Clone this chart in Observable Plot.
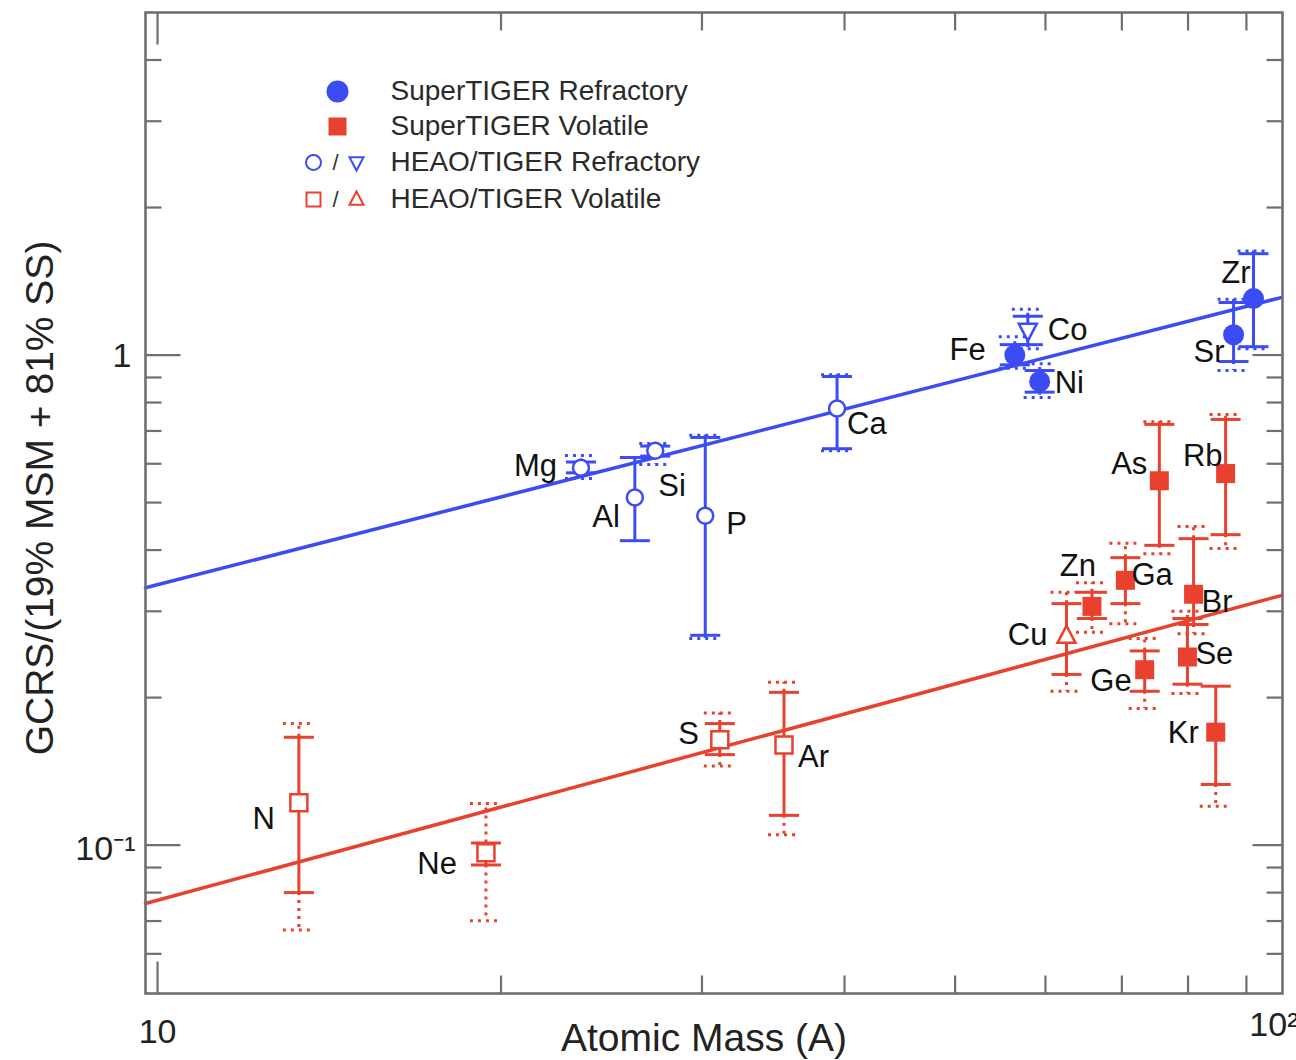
<!DOCTYPE html>
<html>
<head>
<meta charset="utf-8">
<script src="https://cdn.jsdelivr.net/npm/d3@7"></script>
<script src="https://cdn.jsdelivr.net/npm/@observablehq/plot@0.6"></script>
<style>
  html, body { margin: 0; padding: 0; background: #ffffff; }
  #chart svg { display: block; }
</style>
</head>
<body>
<div id="chart"></div>
<script>
// ---------------- data ----------------
const elements     = ["N","Ne","Mg","Al","Si","P","S","Ar","Ca","Fe","Co","Ni","Cu","Zn","Ga","Ge","As","Se","Br","Kr","Rb","Sr","Zr"];
const atomicMass   = [13.3, 19.4, 23.5, 26.2, 27.3, 30.2, 31.1, 35.4, 39.4, 56.4, 57.9, 59.3, 62.6, 65.9, 70.5, 73.3, 75.5, 79.9, 80.9, 84.6, 86.3, 87.7, 91.3];
const ratio        = [0.122, 0.0965, 0.589, 0.512, 0.638, 0.470, 0.164, 0.160, 0.778, 1.00, 1.122, 0.883, 0.267, 0.307, 0.347, 0.228, 0.554, 0.242, 0.325, 0.170, 0.573, 1.10, 1.304];
const statLow      = [0.080, 0.0911, 0.575, 0.418, 0.622, 0.268, 0.153, 0.115, 0.644, 0.955, 1.05, 0.84, 0.223, 0.290, 0.311, 0.206, 0.409, 0.213, 0.282, 0.133, 0.430, 0.97, 1.04];
const statHigh     = [0.166, 0.101, 0.605, 0.618, 0.652, 0.679, 0.177, 0.205, 0.904, 1.05, 1.20, 0.93, 0.311, 0.328, 0.386, 0.249, 0.722, 0.290, 0.422, 0.211, 0.739, 1.28, 1.61];
const totalLow     = [0.0671, 0.0701, 0.560, 0.418, 0.598, 0.264, 0.145, 0.105, 0.638, 0.94, 1.03, 0.819, 0.206, 0.272, 0.283, 0.190, 0.393, 0.204, 0.270, 0.120, 0.403, 0.93, 1.03];
const totalHigh    = [0.177, 0.1216, 0.624, 0.618, 0.660, 0.686, 0.186, 0.215, 0.912, 1.09, 1.24, 0.96, 0.328, 0.343, 0.413, 0.264, 0.731, 0.300, 0.447, 0.211, 0.756, 1.30, 1.63];
const elementClass = ["Volatile","Volatile","Refractory","Refractory","Refractory","Refractory","Volatile","Volatile","Refractory","Refractory","Refractory","Refractory","Volatile","Volatile","Volatile","Volatile","Volatile","Volatile","Volatile","Volatile","Volatile","Refractory","Refractory"];
const dataset      = ["HEAO","HEAO","HEAO","HEAO","HEAO","HEAO","HEAO","HEAO","HEAO","SuperTIGER","TIGER","SuperTIGER","TIGER","SuperTIGER","SuperTIGER","SuperTIGER","SuperTIGER","SuperTIGER","SuperTIGER","SuperTIGER","SuperTIGER","SuperTIGER","SuperTIGER"];

// power-law fit lines (end points)
const fitMass       = [9.76, 96.5];
const refractoryFit = [0.335, 1.31];
const volatileFit   = [0.076, 0.323];

// axis ticks
const xMajorTicks = [10];
const xMinorTicks = [20, 30, 40, 50, 60, 70, 80, 90];
const yMajorTicks = [0.1, 1];
const yMinorTicks = [0.06, 0.07, 0.08, 0.09, 0.2, 0.3, 0.4, 0.5, 0.6, 0.7, 0.8, 0.9, 2, 3, 4];

const legendLabels = ["SuperTIGER Refractory", "SuperTIGER Volatile", "HEAO/TIGER Refractory", "HEAO/TIGER Volatile"];

// ---------------- styling / layout ----------------
const BLUE = "#3c4cf5";
const RED = "#e8412e";
const AXIS = "#6f6f6f";
const FONT = "'Liberation Sans', Arial, Helvetica, sans-serif";

// label placement relative to each marker: [dx, dy, textAnchor]
const labelLayout = {
  N: [-24, 16, "end"], Ne: [-29, 11, "end"], Mg: [-24, -2, "end"], Al: [-15, 20, "end"],
  Si: [3, 35, "start"], P: [21, 8, "start"], S: [-21, -6, "end"], Ar: [14, 12, "start"],
  Ca: [10, 16, "start"], Fe: [-29, -5, "end"], Co: [20, 0, "start"], Ni: [15, 2, "start"],
  Cu: [-19, -1, "end"], Zn: [-14, -40, "middle"], Ga: [6, -5, "start"], Ge: [-13, 11, "end"],
  As: [-12, -17, "end"], Se: [8, -3, "start"], Br: [8, 8, "start"], Kr: [-17, 1, "end"],
  Rb: [-3, -17, "end"], Sr: [-9, 17, "end"], Zr: [-3, -25, "end"]
};
const legendRowOffsets = [79, 114, 150, 187];

// ---------------- custom symbols ----------------
const rad = (size) => Math.sqrt(size / Math.PI);
const segment = (ux, uy) => ({draw(c, size) { const r = rad(size); c.moveTo(0, 0); c.lineTo(ux * r, uy * r); }});
const hline = {draw(c, size) { const r = rad(size); c.moveTo(-r, 0); c.lineTo(r, 0); }};
const squareSym = {draw(c, size) { const r = rad(size); c.moveTo(-r, -r); c.lineTo(r, -r); c.lineTo(r, r); c.lineTo(-r, r); c.closePath(); }};
const triUp = {draw(c, size) { const r = rad(size); c.moveTo(0, -r * 1.15); c.lineTo(r, r * 0.75); c.lineTo(-r, r * 0.75); c.closePath(); }};
const triDown = {draw(c, size) { const r = rad(size); c.moveTo(0, r * 1.15); c.lineTo(r, -r * 0.75); c.lineTo(-r, -r * 0.75); c.closePath(); }};

// ---------------- table ----------------
const rows = elements.map((el, i) => ({
  el, A: atomicMass[i], v: ratio[i],
  sLo: statLow[i], sHi: statHigh[i], tLo: totalLow[i], tHi: totalHigh[i],
  cls: elementClass[i], set: dataset[i],
  color: elementClass[i] === "Refractory" ? BLUE : RED
}));
const fitRows = (vals) => fitMass.map((a, i) => ({A: a, v: vals[i]}));

const extHi = rows.filter(d => d.tHi > d.sHi * 1.004);
const extLo = rows.filter(d => d.tLo < d.sLo * 0.996);

const tickCommon = {stroke: AXIS, strokeWidth: 2.2, fill: "none"};
const txt = {lineAnchor: "middle", fill: "#222"};

const marks = [
  // fit lines
  Plot.line(fitRows(refractoryFit), {x: "A", y: "v", stroke: BLUE, strokeWidth: 3.5}),
  Plot.line(fitRows(volatileFit), {x: "A", y: "v", stroke: RED, strokeWidth: 3.5}),

  // dotted (total) error extensions
  Plot.ruleX(extHi, {x: "A", y1: "sHi", y2: "tHi", stroke: "color", strokeWidth: 3, strokeDasharray: "3,5"}),
  Plot.ruleX(extLo, {x: "A", y1: "sLo", y2: "tLo", stroke: "color", strokeWidth: 3, strokeDasharray: "3,5"}),
  Plot.dot(extHi, {x: "A", y: "tHi", symbol: hline, r: 16, stroke: "color", fill: "none", strokeWidth: 3, strokeDasharray: "3,5"}),
  Plot.dot(extLo, {x: "A", y: "tLo", symbol: hline, r: 16, stroke: "color", fill: "none", strokeWidth: 3, strokeDasharray: "3,5"}),

  // solid (statistical) error bars
  Plot.ruleX(rows, {x: "A", y1: "sLo", y2: "sHi", stroke: "color", strokeWidth: 3}),
  Plot.dot(rows, {x: "A", y: "sHi", symbol: hline, r: 15, stroke: "color", fill: "none", strokeWidth: 3}),
  Plot.dot(rows, {x: "A", y: "sLo", symbol: hline, r: 15, stroke: "color", fill: "none", strokeWidth: 3}),

  // markers
  Plot.dot(rows.filter(d => d.set === "HEAO" && d.cls === "Refractory"), {x: "A", y: "v", r: 8, symbol: "circle", fill: "white", stroke: "color", strokeWidth: 2.5}),
  Plot.dot(rows.filter(d => d.set === "HEAO" && d.cls === "Volatile"), {x: "A", y: "v", r: 8.5, symbol: squareSym, fill: "white", stroke: "color", strokeWidth: 2.5}),
  Plot.dot(rows.filter(d => d.set === "TIGER" && d.cls === "Refractory"), {x: "A", y: "v", r: 9, symbol: triDown, fill: "white", stroke: "color", strokeWidth: 2.5}),
  Plot.dot(rows.filter(d => d.set === "TIGER" && d.cls === "Volatile"), {x: "A", y: "v", r: 9, symbol: triUp, fill: "white", stroke: "color", strokeWidth: 2.5}),
  Plot.dot(rows.filter(d => d.set === "SuperTIGER" && d.cls === "Refractory"), {x: "A", y: "v", r: 10.5, symbol: "circle", fill: "color", stroke: "none"}),
  Plot.dot(rows.filter(d => d.set === "SuperTIGER" && d.cls === "Volatile"), {x: "A", y: "v", r: 9.5, symbol: squareSym, fill: "color", stroke: "none"}),

  // element labels
  ...rows.map(d => {
    const [dx, dy, anchor] = labelLayout[d.el];
    return Plot.text([d], {x: "A", y: "v", text: "el", dx, dy, textAnchor: anchor, lineAnchor: "middle", fontSize: 31, fill: "#111"});
  }),

  // frame and inward ticks
  Plot.frame({stroke: AXIS, strokeWidth: 2.6}),
  Plot.dot(yMajorTicks, {y: d => d, frameAnchor: "left", symbol: segment(1, 0), r: 35, ...tickCommon}),
  Plot.dot(yMinorTicks, {y: d => d, frameAnchor: "left", symbol: segment(1, 0), r: 16, ...tickCommon}),
  Plot.dot(yMajorTicks, {y: d => d, frameAnchor: "right", symbol: segment(-1, 0), r: 30, ...tickCommon}),
  Plot.dot(yMinorTicks, {y: d => d, frameAnchor: "right", symbol: segment(-1, 0), r: 16, ...tickCommon}),
  Plot.dot(xMajorTicks, {x: d => d, frameAnchor: "bottom", symbol: segment(0, -1), r: 32, ...tickCommon}),
  Plot.dot(xMinorTicks, {x: d => d, frameAnchor: "bottom", symbol: segment(0, -1), r: 18, ...tickCommon}),
  Plot.dot(xMajorTicks, {x: d => d, frameAnchor: "top", symbol: segment(0, 1), r: 32, ...tickCommon}),
  Plot.dot(xMinorTicks, {x: d => d, frameAnchor: "top", symbol: segment(0, 1), r: 18, ...tickCommon}),

  // tick labels
  Plot.text(xMajorTicks, {x: d => d, frameAnchor: "bottom", dy: 39, text: () => "10", textAnchor: "middle", fontSize: 34, ...txt}),
  Plot.text(["10²"], {frameAnchor: "bottom-right", textAnchor: "end", dx: 16, dy: 32, fontSize: 34, ...txt}),
  Plot.text([1], {y: d => d, frameAnchor: "left", textAnchor: "end", dx: -14, dy: 1, text: () => "1", fontSize: 34, ...txt}),
  Plot.text([0.1], {y: d => d, frameAnchor: "left", textAnchor: "end", dx: -10, dy: 4, text: () => "10⁻¹", fontSize: 34, ...txt}),

  // axis titles
  Plot.text(["Atomic Mass (A)"], {frameAnchor: "bottom", textAnchor: "middle", dx: -10, dy: 45, fontSize: 39, ...txt}),
  Plot.text(["GCRS/(19% MSM + 81% SS)"], {frameAnchor: "left", textAnchor: "middle", dx: -105, dy: -5, rotate: -90, fontSize: 39, ...txt}),

  // legend
  Plot.dot([0], {frameAnchor: "top-left", dx: 192, dy: legendRowOffsets[0], r: 11, symbol: "circle", fill: BLUE, stroke: "none"}),
  Plot.dot([0], {frameAnchor: "top-left", dx: 192, dy: legendRowOffsets[1], r: 9, symbol: squareSym, fill: RED, stroke: "none"}),
  Plot.dot([0], {frameAnchor: "top-left", dx: 168, dy: legendRowOffsets[2], r: 7.5, symbol: "circle", fill: "white", stroke: BLUE, strokeWidth: 2}),
  Plot.dot([0], {frameAnchor: "top-left", dx: 211, dy: legendRowOffsets[2], r: 7, symbol: triDown, fill: "white", stroke: BLUE, strokeWidth: 2}),
  Plot.dot([0], {frameAnchor: "top-left", dx: 168, dy: legendRowOffsets[3], r: 7, symbol: squareSym, fill: "white", stroke: RED, strokeWidth: 2}),
  Plot.dot([0], {frameAnchor: "top-left", dx: 211, dy: legendRowOffsets[3], r: 7, symbol: triUp, fill: "white", stroke: RED, strokeWidth: 2}),
  Plot.text(["/"], {frameAnchor: "top-left", textAnchor: "middle", dx: 190, dy: legendRowOffsets[2], fontSize: 22, lineAnchor: "middle", fill: "#333"}),
  Plot.text(["/"], {frameAnchor: "top-left", textAnchor: "middle", dx: 190, dy: legendRowOffsets[3], fontSize: 22, lineAnchor: "middle", fill: "#333"}),
  ...legendLabels.map((t, i) => Plot.text([t], {frameAnchor: "top-left", dx: 245, dy: legendRowOffsets[i], textAnchor: "start", lineAnchor: "middle", fontSize: 28, fill: "#2a2a2a"}))
];

const chart = Plot.plot({
  width: 1296,
  height: 1060,
  marginLeft: 145,
  marginRight: 14,
  marginTop: 12,
  marginBottom: 67,
  style: {fontFamily: FONT, background: "white", overflow: "visible"},
  x: {type: "log", domain: [9.76, 96.8], axis: null},
  y: {type: "log", domain: [0.0498, 5.0], axis: null},
  color: {type: "identity"},
  marks
});
document.getElementById("chart").append(chart);
</script>
</body>
</html>
